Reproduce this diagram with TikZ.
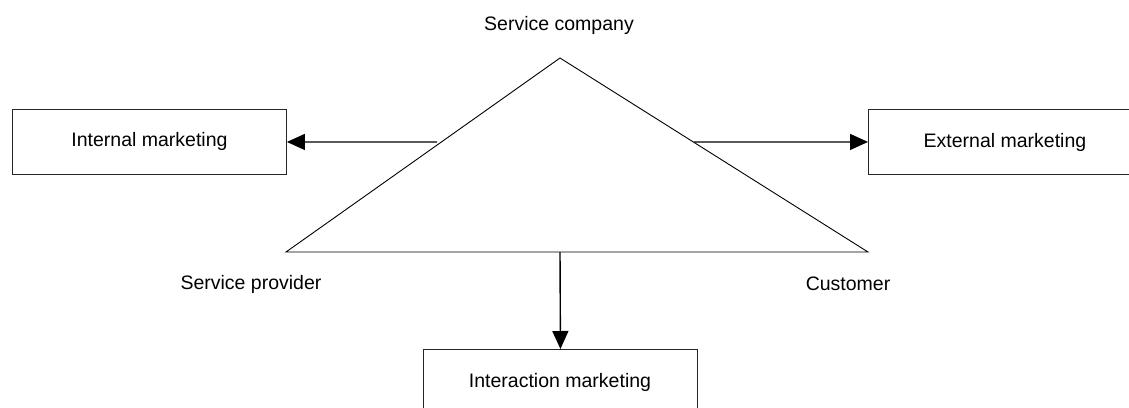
\documentclass[tikz,border=0pt]{standalone}
\usepackage{fontspec}
\setmainfont{Liberation Sans}
\usetikzlibrary{arrows.meta}
\begin{document}
\begin{tikzpicture}[x=1pt,y=-1pt,
  boxnode/.style={draw=black!85,line width=0.9pt,minimum width=274pt,minimum height=65pt,inner sep=0pt,anchor=north west},
  lbl/.style={font=\fontsize{19.5pt}{22pt}\selectfont},
  conn/.style={line width=1.4pt,-{Triangle[length=18pt,width=16pt]}},
  tri/.style={line width=0.9pt,line join=miter}]
\useasboundingbox (0,0) rectangle (1129,407);
\clip (0,0) rectangle (1129,407);
% triangle
\coordinate (apex) at (560,58);
\coordinate (bl) at (286,252);
\coordinate (br) at (868,252);
\draw[tri] (apex) -- (bl) -- (br) -- cycle;
\coordinate (lstart) at (437,142);
\coordinate (rstart) at (694,142);
\coordinate (bstart) at (560,252);
% boxes
\node[boxnode] (internal) at (12,109) {};
\node[lbl] at (internal.center) {Internal marketing};
\node[boxnode] (external) at (868,109) {};
\node[lbl] at (1005,142) {External marketing};
\node[boxnode] (interaction) at (423,349) {};
\node[lbl] at (560,382) {Interaction marketing};
% labels
\node[lbl] (company) at (559,25) {Service company};
\node[lbl] (provider) at (251,284) {Service provider};
\node[lbl] (customer) at (848,284) {Customer};
% connectors
\draw[conn] (lstart) -- (internal.east);
\draw[conn] (rstart) -- (external.west);
\draw[conn] (bstart) -- (interaction.north);
\end{tikzpicture}
\end{document}
